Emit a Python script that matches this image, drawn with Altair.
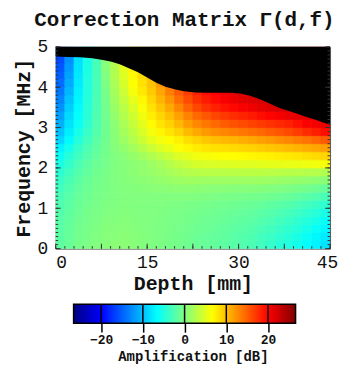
import altair as alt
import pandas as pd

FONT = "Liberation Mono"

# Grid cell edges (depth in mm, frequency in MHz)
DEPTH_EDGES = [0, 1.5, 3, 4.5, 6, 7.5, 9, 10.5, 12, 13.5, 15, 16.5, 18, 19.5, 21, 22.5,
               24, 25.5, 27, 28.5, 30, 31.5, 33, 34.5, 36, 37.5, 39, 40.5, 42, 43.5, 45]
FREQ_EDGES = [0, 0.2, 0.4, 0.6, 0.8, 1.0, 1.2, 1.4, 1.6, 1.8, 2.0, 2.2, 2.4, 2.6, 2.8,
              3.0, 3.2, 3.4, 3.6, 3.8, 4.0, 4.2, 4.4, 4.6, 4.8, 5.0]

# Amplification [dB]: one row per frequency cell (bottom to top), one value per depth cell
AMP = [
    [-1.8, -1.2, -0.6, -0.2, 0.1, 0.3, 0.5, 0.5, 0.4, 0.2, 0.0, -0.2, -0.4, -0.6, -0.9, -1.1, -1.3, -1.5, -1.8, -2.1, -2.4, -2.8, -3.3, -3.9, -4.5, -5.0, -5.7, -6.5, -7.3, -8.0],
    [-1.9, -1.3, -0.7, -0.3, 0.0, 0.3, 0.4, 0.5, 0.4, 0.2, 0.0, -0.2, -0.4, -0.6, -0.9, -1.1, -1.3, -1.5, -1.7, -2.0, -2.3, -2.6, -3.1, -3.6, -4.2, -4.7, -5.4, -6.2, -7.0, -7.7],
    [-2.0, -1.4, -0.8, -0.4, -0.1, 0.2, 0.3, 0.4, 0.3, 0.1, 0.0, -0.2, -0.3, -0.5, -0.7, -0.9, -1.1, -1.3, -1.5, -1.8, -2.0, -2.3, -2.7, -3.2, -3.7, -4.2, -4.8, -5.5, -6.3, -7.0],
    [-2.1, -1.5, -0.9, -0.5, -0.2, 0.1, 0.2, 0.3, 0.2, 0.1, 0.0, -0.1, -0.3, -0.4, -0.6, -0.8, -1.0, -1.1, -1.3, -1.5, -1.7, -2.0, -2.3, -2.7, -3.2, -3.6, -4.2, -4.8, -5.5, -6.2],
    [-2.3, -1.7, -1.1, -0.6, -0.3, 0.0, 0.1, 0.2, 0.1, 0.0, 0.0, -0.1, -0.2, -0.3, -0.5, -0.6, -0.8, -0.9, -1.1, -1.2, -1.4, -1.6, -1.9, -2.2, -2.6, -3.0, -3.5, -4.1, -4.7, -5.3],
    [-2.5, -1.9, -1.2, -0.7, -0.4, -0.1, 0.0, 0.1, 0.1, 0.0, 0.0, 0.0, -0.1, -0.2, -0.3, -0.4, -0.5, -0.6, -0.8, -0.9, -1.0, -1.2, -1.4, -1.7, -2.0, -2.3, -2.7, -3.2, -3.7, -4.2],
    [-2.8, -2.1, -1.4, -0.9, -0.5, -0.2, 0.0, 0.1, 0.1, 0.1, 0.1, 0.1, 0.1, 0.1, 0.1, 0.0, -0.1, -0.2, -0.3, -0.4, -0.5, -0.6, -0.7, -0.9, -1.1, -1.3, -1.6, -2.0, -2.4, -2.8],
    [-3.2, -2.4, -1.6, -1.0, -0.6, -0.3, 0.0, 0.1, 0.2, 0.3, 0.4, 0.5, 0.6, 0.7, 0.7, 0.6, 0.5, 0.4, 0.4, 0.3, 0.3, 0.3, 0.2, 0.1, 0.0, -0.2, -0.4, -0.7, -1.0, -1.3],
    [-3.7, -2.8, -1.9, -1.2, -0.7, -0.3, 0.0, 0.2, 0.4, 0.6, 0.8, 1.0, 1.3, 1.5, 1.6, 1.6, 1.5, 1.5, 1.5, 1.5, 1.5, 1.5, 1.5, 1.4, 1.3, 1.2, 1.1, 0.9, 0.7, 0.5],
    [-4.3, -3.3, -2.3, -1.5, -0.9, -0.4, 0.0, 0.3, 0.6, 0.9, 1.2, 1.6, 2.0, 2.4, 2.7, 2.9, 3.0, 3.0, 3.0, 3.0, 3.1, 3.1, 3.1, 3.0, 3.0, 2.9, 2.9, 2.8, 2.7, 2.6],
    [-5.2, -4.0, -2.7, -1.8, -1.1, -0.5, 0.0, 0.3, 0.6, 0.9, 1.4, 2.0, 2.7, 3.4, 4.0, 4.4, 4.6, 4.7, 4.8, 4.9, 5.0, 5.1, 5.2, 5.3, 5.4, 5.5, 5.6, 5.8, 6.0, 6.2],
    [-6.0, -4.7, -3.4, -2.3, -1.4, -0.6, 0.0, 0.5, 1.1, 1.7, 2.4, 3.2, 4.0, 4.8, 5.4, 5.9, 6.2, 6.4, 6.6, 6.7, 6.8, 7.0, 7.2, 7.4, 7.6, 7.8, 8.0, 8.3, 8.6, 8.9],
    [-7.2, -5.6, -4.0, -2.7, -1.7, -0.7, 0.2, 1.0, 1.8, 2.8, 3.8, 4.8, 5.6, 6.4, 7.1, 7.6, 8.0, 8.2, 8.4, 8.6, 8.8, 9.0, 9.3, 9.6, 9.9, 10.2, 10.5, 10.9, 11.3, 11.7],
    [-8.8, -6.8, -4.8, -3.3, -2.0, -0.8, 0.4, 1.5, 2.6, 3.9, 5.2, 6.0, 6.7, 7.4, 8.3, 9.0, 9.6, 10.0, 10.3, 10.6, 10.9, 11.2, 11.6, 12.0, 12.5, 13.0, 13.5, 14.0, 14.6, 15.2],
    [-9.8, -7.5, -5.5, -3.8, -2.3, -0.9, 0.5, 1.9, 3.1, 4.6, 6.1, 7.1, 8.0, 9.0, 10.2, 11.2, 12.0, 12.6, 13.0, 13.4, 13.8, 14.2, 14.6, 15.1, 15.6, 16.2, 16.9, 17.7, 18.5, 19.3],
    [-10.8, -8.1, -6.2, -4.3, -2.5, -0.9, 0.7, 2.2, 3.6, 5.2, 6.8, 8.0, 9.0, 10.4, 11.8, 12.9, 13.8, 14.5, 15.2, 15.7, 16.1, 16.5, 17.0, 17.4, 17.8, 18.3, 19.1, 20.0, 20.5, 21.0],
    [-11.5, -8.6, -6.5, -4.5, -2.6, -0.8, 1.0, 2.6, 4.1, 5.8, 7.5, 8.8, 10.0, 11.6, 13.2, 14.5, 15.5, 16.3, 17.0, 17.6, 18.1, 18.6, 19.2, 19.8, 20.4, 20.9, 21.2, 21.4, 21.5, 21.5],
    [-12.3, -9.2, -6.8, -4.6, -2.7, -0.7, 1.3, 3.0, 4.6, 6.3, 8.1, 9.7, 11.2, 13.0, 14.8, 16.3, 17.4, 18.3, 19.0, 19.6, 20.2, 20.7, 21.2, 21.7, 22.0, 22.1, 22.0, 21.8, 21.6, 21.5],
    [-13.0, -9.8, -7.1, -4.8, -2.8, -0.6, 1.6, 3.5, 5.3, 7.0, 8.8, 10.6, 12.3, 14.3, 16.0, 17.5, 18.6, 19.5, 20.2, 20.8, 21.3, 21.7, 22.0, 22.3, 22.4, 22.4, 22.2, 22.0, 21.8, 21.6],
    [-13.7, -10.4, -7.4, -4.9, -2.9, -0.4, 1.9, 4.0, 6.2, 7.8, 9.4, 11.3, 13.3, 15.3, 16.8, 18.2, 19.3, 20.1, 20.8, 21.3, 21.7, 22.0, 22.3, 22.5, 22.5, 22.4, 22.2, 22.0, 21.8, 21.6],
    [-14.4, -11.0, -7.7, -5.0, -3.0, -0.2, 2.2, 4.5, 6.6, 8.1, 9.8, 12.0, 14.0, 16.0, 17.3, 18.5, 19.5, 20.2, 20.8, 21.3, 21.7, 22.0, 22.3, 22.5, 22.5, 22.4, 22.2, 22.0, 21.8, 21.6],
    [-15.0, -11.5, -7.9, -5.1, -3.0, 0.0, 2.5, 4.9, 7.0, 8.5, 10.3, 12.5, 14.5, 16.3, 17.5, 18.6, 19.5, 20.2, 20.8, 21.3, 21.7, 22.0, 22.3, 22.5, 22.5, 22.4, 22.2, 22.0, 21.8, 21.6],
    [-15.5, -12.0, -8.0, -5.2, -3.0, 0.3, 2.6, 5.2, 7.3, 8.7, 10.6, 12.8, 14.7, 16.4, 17.6, 18.6, 19.5, 20.2, 20.8, 21.3, 21.7, 22.0, 22.3, 22.5, 22.5, 22.4, 22.2, 22.0, 21.8, 21.6],
    [-16.0, -12.4, -8.2, -5.3, -3.0, 0.4, 2.8, 5.5, 7.5, 8.9, 10.8, 13.0, 14.8, 16.5, 17.6, 18.6, 19.5, 20.2, 20.8, 21.3, 21.7, 22.0, 22.3, 22.5, 22.5, 22.4, 22.2, 22.0, 21.8, 21.6],
    [-16.0, -12.4, -8.2, -5.3, -3.0, 0.4, 2.8, 5.5, 7.5, 8.9, 10.8, 13.0, 14.8, 16.5, 17.6, 18.6, 19.5, 20.2, 20.8, 21.3, 21.7, 22.0, 22.3, 22.5, 22.5, 22.4, 22.2, 22.0, 21.8, 21.6],
]

# Upper limit of valid data (black above)
MASK_DEPTH = [0, 2, 4, 6, 7.5, 9, 10.5, 12, 13.5, 15, 16.5, 18, 19.5, 21, 23, 25, 27, 29, 30.5, 32, 33.5, 35, 36.5, 38, 39.5, 41, 42.5, 44, 45]
MASK_FREQ = [4.76, 4.75, 4.74, 4.72, 4.68, 4.64, 4.57, 4.47, 4.37, 4.24, 4.11, 4.01, 3.95, 3.9, 3.87, 3.86, 3.86, 3.86, 3.84, 3.78, 3.70, 3.60, 3.50, 3.42, 3.35, 3.27, 3.20, 3.12, 3.07]

X_TICKS = [0, 15, 30, 45]
Y_TICKS = [0, 1, 2, 3, 4, 5]
CB_TICKS = [-20, -10, 0, 10, 20]
CB_RANGE = [-26.6, 26.6]

JET = ["#000080", "#0000ff", "#0080ff", "#00ffff", "#80ff80", "#ffff00", "#ff8000", "#ff0000", "#800000"]
lo, hi = CB_RANGE
JET_DOMAIN = [lo + (hi - lo) * i / 8 for i in range(9)]

W, H = 276, 203

rows = []
for r, row in enumerate(AMP):
    for c, v in enumerate(row):
        rows.append({"d0": DEPTH_EDGES[c], "d1": DEPTH_EDGES[c + 1],
                     "f0": FREQ_EDGES[r], "f1": FREQ_EDGES[r + 1], "amp": v})
grid = pd.DataFrame(rows)
mask = pd.DataFrame({"d": MASK_DEPTH, "f": MASK_FREQ, "top": [5.0] * len(MASK_DEPTH)})

xs = alt.Scale(domain=[0, 45], nice=False, zero=False)
ys = alt.Scale(domain=[0, 5], nice=False, zero=False)
cs = alt.Scale(domain=JET_DOMAIN, range=JET, interpolate="rgb", clamp=True)

heat = alt.Chart(grid).mark_rect(strokeWidth=0.8, clip=True).encode(
    x=alt.X("d0:Q", scale=xs, title="Depth [mm]",
            axis=alt.Axis(values=X_TICKS, tickSize=0, domain=False, grid=False,
                          labelFont=FONT, labelFontSize=18, labelPadding=5, labelColor="#111",
                          labelAlign={"condition": {"test": "datum.value == 0", "value": "left"}, "value": "center"},
                          labelOffset={"condition": {"test": "datum.value == 45", "value": -3}, "value": 0},
                          titleFont=FONT, titleFontSize=20, titleFontWeight="bold",
                          titlePadding=2, titleColor="#111", labelFlush=False)),
    x2="d1:Q",
    y=alt.Y("f0:Q", scale=ys, title="Frequency [MHz]",
            axis=alt.Axis(values=Y_TICKS, tickSize=0, domain=False, grid=False,
                          labelFont=FONT, labelFontSize=18, labelPadding=8, labelColor="#111",
                          titleFont=FONT, titleFontSize=20, titleFontWeight="bold",
                          titlePadding=4, titleColor="#111", labelFlush=False)),
    y2="f1:Q",
    color=alt.Color("amp:Q", legend=None, scale=cs),
    stroke=alt.Stroke("amp:Q", legend=None, scale=cs),
)

black = alt.Chart(mask).mark_area(color="black", opacity=1).encode(
    x=alt.X("d:Q", scale=xs), y=alt.Y("f:Q", scale=ys), y2="top:Q")

xminor = pd.DataFrame({"d": [i * 1.5 for i in range(31)], "major": [i % 5 == 0 for i in range(31)]})
yminor = pd.DataFrame({"f": [i * 0.1 for i in range(51)], "major": [i % 10 == 0 for i in range(51)]})

tick_color = "#333"
def xticks(df, ln):
    return alt.Chart(df).mark_rule(color=tick_color, strokeWidth=1).encode(
        x=alt.X("d:Q", scale=xs), y=alt.value(H), y2=alt.value(H - ln))
def yticks(df, x0, x1):
    return alt.Chart(df).mark_rule(color=tick_color, strokeWidth=1).encode(
        y=alt.Y("f:Q", scale=ys), x=alt.value(x0), x2=alt.value(x1))

layers = [heat, black,
          xticks(xminor, 2.5), xticks(xminor[xminor.major], 5),
          yticks(yminor, 0, 2.5), yticks(yminor[yminor.major], 0, 5),
          yticks(yminor, W, W - 2.5), yticks(yminor[yminor.major], W, W - 5)]

main = alt.layer(*layers).properties(
    width=W, height=H, view=alt.ViewBackground(stroke="#555", strokeWidth=1))

# Colorbar
px_per = 223.3 / (hi - lo)
cb_dom = [lo - 18 / px_per, lo - 18 / px_per + W / px_per]
cbs = alt.Scale(domain=cb_dom, nice=False, zero=False)
cbdf = pd.DataFrame({"a": [lo], "b": [hi]})
grad = alt.LinearGradient(gradient="linear", x1=0, x2=1, y1=0, y2=0,
                          stops=[alt.GradientStop(offset=i / 8, color=c) for i, c in enumerate(JET)])
cb_rect = alt.Chart(cbdf).mark_rect(fill=grad, stroke="black", strokeWidth=1.5).encode(
    x=alt.X("a:Q", scale=cbs, title="Amplification [dB]",
            axis=alt.Axis(values=CB_TICKS, tickSize=9, tickColor="black", tickWidth=1.5,
                          domain=False, grid=False, labelFont=FONT, labelFontSize=13,
                          labelFontWeight="bold", labelColor="#111", labelPadding=1,
                          titleFont=FONT, titleFontSize=14, titleFontWeight="bold",
                          titleColor="#111", titlePadding=4)),
    x2="b:Q")
cb_lines = alt.Chart(pd.DataFrame({"t": CB_TICKS})).mark_rule(color="black", strokeWidth=1.5).encode(
    x=alt.X("t:Q", scale=cbs))
colorbar = alt.layer(cb_rect, cb_lines).properties(
    width=W, height=19, view=alt.ViewBackground(stroke="transparent"))

chart = alt.vconcat(main, colorbar, spacing=8).properties(
    title=alt.TitleParams("Correction Matrix Γ(d,f)", font=FONT, fontSize=21,
                          fontWeight="bold", anchor="middle", color="#111", offset=7, dx=9),
    padding={"left": 4, "top": 0, "right": 0, "bottom": 0},
).configure_view(stroke="transparent")

chart.save("out.html", embed_options={"renderer": "svg", "actions": False})
